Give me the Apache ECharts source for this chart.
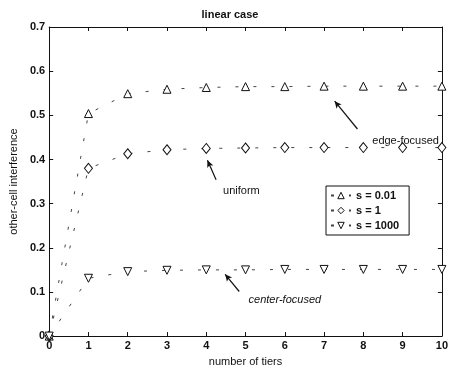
<!DOCTYPE html>
<html>
<head>
<meta charset="utf-8">
<script src="https://cdn.jsdelivr.net/npm/echarts@6/dist/echarts.min.js"></script>
<style>
  html, body { margin: 0; padding: 0; background: #fff; }
  #chart { width: 451px; height: 372px; }
</style>
</head>
<body>
<div id="chart"></div>
<script>
const tiers = [0, 1, 2, 3, 4, 5, 6, 7, 8, 9, 10];
const edgeFocused = [0, 0.504, 0.549, 0.559, 0.563, 0.565, 0.565, 0.566, 0.566, 0.566, 0.566];
const uniform = [0, 0.380, 0.413, 0.422, 0.425, 0.426, 0.427, 0.427, 0.427, 0.427, 0.427];
const centerFocused = [0, 0.131, 0.146, 0.149, 0.150, 0.150, 0.151, 0.151, 0.151, 0.151, 0.151];
const yTicks = [0, 0.1, 0.2, 0.3, 0.4, 0.5, 0.6, 0.7];

const FONT = "Liberation Sans, Arial, sans-serif";
const INK = "#111";

const chart = echarts.init(document.getElementById("chart"));

function pairs(values) {
  return tiers.map((t, i) => [t, values[i]]);
}

const markerStyle = { color: "#fff", borderColor: INK, borderWidth: 1 };
const lineDash = { color: "#444", width: 1, type: [3, 15] };
const legendMarker = { color: "#fff", borderColor: INK, borderWidth: 1 };

function arrow(from, to) {
  return [
    { coord: from, symbol: "none" },
    { coord: to, symbol: "arrow", symbolSize: [5, 7] }
  ];
}

chart.setOption({
  animation: false,
  backgroundColor: "#fff",
  textStyle: { fontFamily: FONT },
  title: {
    text: "linear case",
    left: 225,
    top: 4,
    textAlign: "center",
    textStyle: { fontSize: 11, fontWeight: "bold", color: INK, fontFamily: FONT }
  },
  grid: { left: 48, right: 8, top: 27, bottom: 33 },
  legend: {
    orient: "vertical",
    left: 326,
    top: 186,
    itemWidth: 20,
    itemHeight: 8,
    itemGap: 4,
    padding: [4, 10, 4, 4],
    backgroundColor: "#fff",
    borderColor: INK,
    borderWidth: 1,
    borderRadius: 0,
    textStyle: { fontSize: 11, color: INK, fontFamily: FONT, fontWeight: "bold" },
    data: [
      { name: "s = 0.01", itemStyle: legendMarker },
      { name: "s = 1", itemStyle: legendMarker },
      { name: "s = 1000", itemStyle: legendMarker }
    ]
  },
  xAxis: [
    {
      type: "value",
      min: 0,
      max: 10,
      interval: 1,
      name: "number of tiers",
      nameLocation: "middle",
      nameGap: 18,
      nameTextStyle: { fontSize: 11, color: INK, fontFamily: FONT },
      axisLine: { onZero: false, lineStyle: { color: INK } },
      axisTick: { inside: true, length: 4, lineStyle: { color: INK } },
      axisLabel: { fontSize: 11, color: INK, margin: 4, fontFamily: FONT, fontWeight: "bold" },
      splitLine: { show: false }
    },
    {
      type: "value",
      position: "top",
      min: 0,
      max: 10,
      interval: 1,
      axisLine: { show: true, onZero: false, lineStyle: { color: INK } },
      axisTick: { show: true, inside: true, length: 4, lineStyle: { color: INK } },
      axisLabel: { show: false },
      splitLine: { show: false }
    }
  ],
  yAxis: [
    {
      type: "value",
      min: 0,
      max: 0.7,
      interval: 0.1,
      name: "other-cell interference",
      nameLocation: "middle",
      nameGap: 30,
      nameTextStyle: { fontSize: 11, color: INK, fontFamily: FONT },
      axisLine: { show: true, onZero: false, lineStyle: { color: INK } },
      axisTick: { show: true, inside: true, length: 4, lineStyle: { color: INK } },
      axisLabel: {
        fontSize: 11,
        color: INK,
        margin: 4,
        fontFamily: FONT,
        fontWeight: "bold",
        formatter: (v) => {
          const hit = yTicks.find((t) => Math.abs(t - v) < 1e-9);
          return hit === 0 ? "0" : (hit !== undefined ? hit.toFixed(1) : "");
        }
      },
      splitLine: { show: false }
    },
    {
      type: "value",
      position: "right",
      min: 0,
      max: 0.7,
      interval: 0.1,
      axisLine: { show: true, onZero: false, lineStyle: { color: INK } },
      axisTick: { show: true, inside: true, length: 4, lineStyle: { color: INK } },
      axisLabel: { show: false },
      splitLine: { show: false }
    }
  ],
  series: [
    {
      name: "s = 0.01",
      type: "line",
      data: pairs(edgeFocused),
      symbol: "triangle",
      symbolSize: 8,
      itemStyle: markerStyle,
      lineStyle: lineDash,
      markLine: {
        silent: true,
        lineStyle: { color: INK, width: 1.2, type: "solid" },
        label: { show: false },
        data: [arrow([7.85, 0.469], [7.27, 0.532])]
      },
      markPoint: {
        symbol: "rect",
        symbolSize: 0,
        label: { show: true, position: "right", fontSize: 11, color: INK, fontFamily: FONT, formatter: "edge-focused" },
        data: [{ coord: [8.1, 0.442] }]
      }
    },
    {
      name: "s = 1",
      type: "line",
      data: pairs(uniform),
      symbol: "diamond",
      symbolSize: [8, 10],
      itemStyle: markerStyle,
      lineStyle: lineDash,
      markLine: {
        silent: true,
        lineStyle: { color: INK, width: 1.2, type: "solid" },
        label: { show: false },
        data: [arrow([4.25, 0.354], [4.03, 0.398])]
      },
      markPoint: {
        symbol: "rect",
        symbolSize: 0,
        label: { show: true, position: "right", fontSize: 11, color: INK, fontFamily: FONT, formatter: "uniform" },
        data: [{ coord: [4.3, 0.328] }]
      }
    },
    {
      name: "s = 1000",
      type: "line",
      data: pairs(centerFocused),
      symbol: "triangle",
      symbolRotate: 180,
      symbolSize: 8,
      itemStyle: markerStyle,
      lineStyle: lineDash,
      markLine: {
        silent: true,
        lineStyle: { color: INK, width: 1.2, type: "solid" },
        label: { show: false },
        data: [arrow([4.84, 0.101], [4.48, 0.140])]
      },
      markPoint: {
        symbol: "rect",
        symbolSize: 0,
        label: { show: true, position: "right", fontSize: 11, fontStyle: "italic", color: INK, fontFamily: FONT, formatter: "center-focused" },
        data: [{ coord: [4.95, 0.083] }]
      }
    }
  ]
});
</script>
</body>
</html>
